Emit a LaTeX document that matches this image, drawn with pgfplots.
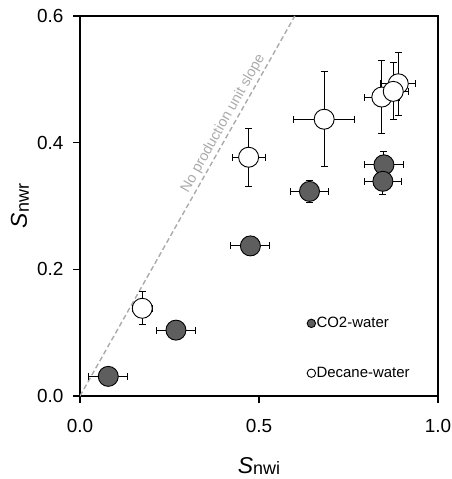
\documentclass[border=0pt]{standalone}
\usepackage{fontspec}
\setmainfont{Liberation Sans}
\usepackage{pgfplots}
\pgfplotsset{compat=1.18}
\usepackage{pgfplotstable}
\definecolor{co2fill}{HTML}{5E5E5E}
\definecolor{slopegray}{HTML}{ABABAB}

% x, y, half-widths of the error bars
\pgfplotstableread{
x      y      ex     ey
0.079  0.031  0.054  0
0.268  0.104  0.054  0
0.476  0.237  0.0545 0.015
0.641  0.323  0.053  0.018
0.849  0.365  0.054  0.021
0.846  0.339  0.052  0.021
}\cotwo

\pgfplotstableread{
x      y      ex     ey
0.174  0.1385 0.028  0.026
0.471  0.377  0.046  0.046
0.682  0.437  0.086  0.075
0.889  0.493  0.049  0.050
0.843  0.472  0.049  0.058
0.875  0.481  0.043  0.045
}\decane

\begin{document}
\begin{tikzpicture}[x=1bp,y=1bp]
\begin{axis}[
  at={(0,0)}, anchor=south west,
  scale only axis, width=358bp, height=380bp,
  xmin=0, xmax=1, ymin=0, ymax=0.6,
  xtick={0,0.5,1}, ytick={0,0.2,0.4,0.6},
  xtick pos=bottom, ytick pos=left,
  tick align=outside, major tick length=7bp,
  tick style={black, line width=1.2bp},
  axis line style={line width=1.6bp},
  /pgf/number format/assume math mode=true,
  xticklabel style={/pgf/number format/.cd, fixed, fixed zerofill, precision=1, /tikz/.cd, yshift=-13bp},
  yticklabel style={/pgf/number format/.cd, fixed, fixed zerofill, precision=1, /tikz/.cd, xshift=-6bp},
  tick label style={font=\fontsize{19}{19}\selectfont},
  xlabel={{\fontsize{23}{23}\selectfont\textit{S}}\raisebox{-0.35ex}{\fontsize{18}{18}\selectfont nwi}},
  ylabel={{\fontsize{23}{23}\selectfont\textit{S}}\raisebox{-0.35ex}{\fontsize{18}{18}\selectfont nwr}},
  xlabel style={at={(axis description cs:0.5,-0.184)}, anchor=center},
  ylabel style={at={(axis description cs:-0.168,0.5)}, anchor=center},
  legend style={at={(axis cs:0.634,0.126)}, anchor=north west, draw=none, fill=none,
    font=\fontsize{15}{15}\selectfont, row sep=36bp, inner sep=0pt,
    nodes={inner sep=1bp}},
  legend cell align=left,
  legend image code/.code={\draw[#1, mark size=4.2bp] plot coordinates {(4.5bp,0bp)};},
  error bars/error bar style={black, line width=1bp},
  error bars/error mark options={black, mark size=3.5bp, line width=1bp, rotate=90},
]
\addplot[slopegray, dashed, line width=1.4bp, dash pattern=on 5bp off 3bp, forget plot]
  coordinates {(0,0) (0.6,0.6)}
  node[pos=0.705, sloped, above=1bp, inner sep=1bp, font=\fontsize{14.5}{14.5}\selectfont, text=slopegray] {No production unit slope};

\addplot[only marks, mark=*, mark size=10bp,
  mark options={fill=co2fill, draw=black, line width=0.9bp},
  error bars/.cd, x dir=both, x explicit, y dir=both, y explicit]
  table[x=x, y=y, x error=ex, y error=ey] {\cotwo};
\addlegendentry{CO2-water}

\addplot[only marks, mark=*, mark size=10bp,
  mark options={fill=white, draw=black, line width=0.9bp},
  error bars/.cd, x dir=both, x explicit, y dir=both, y explicit]
  table[x=x, y=y, x error=ex, y error=ey] {\decane};
\addlegendentry{Decane-water}
\end{axis}
\pgfresetboundingbox
\path[use as bounding box] (-80,-83) rectangle (372,396);
\end{tikzpicture}
\end{document}
